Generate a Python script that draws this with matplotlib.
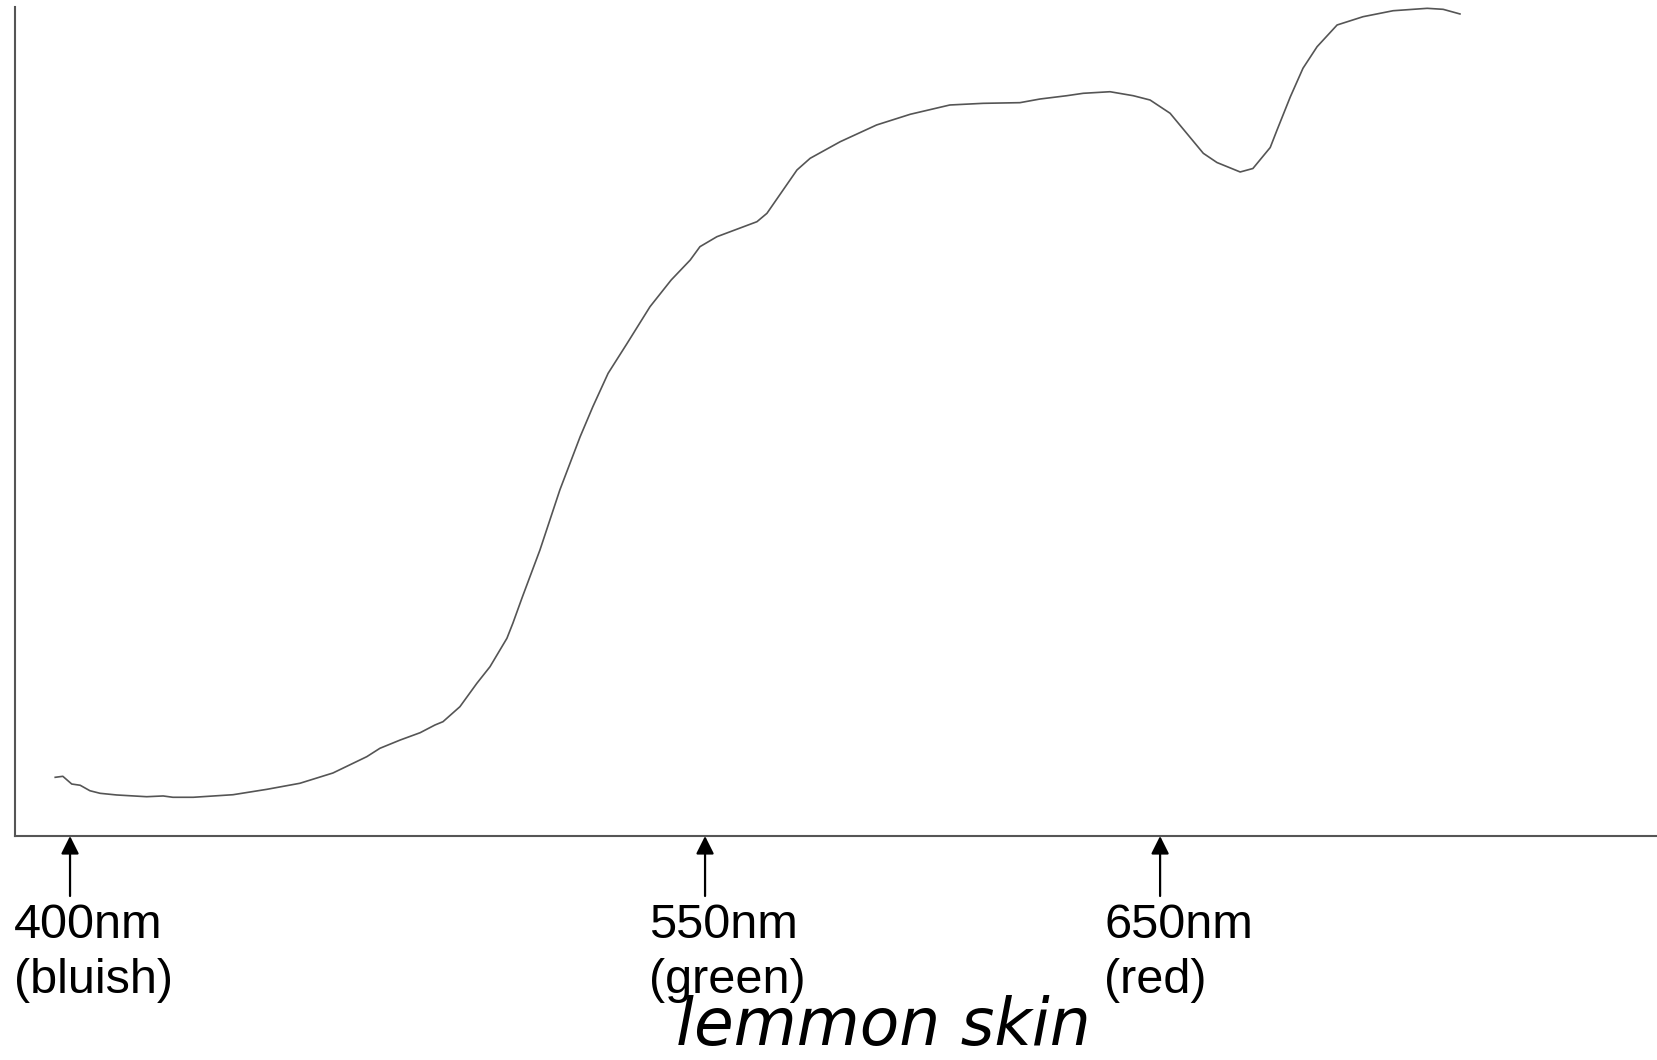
import numpy as np
import matplotlib
matplotlib.use("Agg")
import matplotlib.pyplot as plt

# reflectance spectrum of lemon skin (arbitrary units, 0-100)
wavelength_nm = [396.5, 398.3, 400.4, 402.4, 404.7, 407.1, 411.0, 418.1, 422.0, 424.3,
                 429.1, 438.5, 446.5, 454.3, 462.1, 470.1, 473.2, 478.0, 482.7, 486.2,
                 488.1, 492.1, 496.1, 499.2, 503.2, 504.6, 506.8, 511.0, 515.7, 520.5,
                 523.5, 527.1, 531.6, 537.0, 542.0, 546.5, 548.8, 552.6, 561.4, 563.6,
                 570.2, 573.1, 579.7, 587.7, 595.1, 603.8, 611.1, 619.2, 623.6, 629.5,
                 633.1, 639.0, 644.1, 647.8, 652.2, 659.5, 662.5, 667.6, 670.4, 674.2,
                 675.7, 678.6, 681.4, 684.5, 688.9, 694.6, 701.2, 708.7, 712.2, 715.9]
reflectance = [7.08, 7.20, 6.27, 6.12, 5.46, 5.15, 4.95, 4.74, 4.83, 4.67,
               4.67, 4.98, 5.63, 6.36, 7.60, 9.57, 10.58, 11.58, 12.46, 13.39,
               13.79, 15.60, 18.42, 20.42, 23.85, 25.66, 28.77, 34.50, 41.74, 48.17,
               51.79, 55.81, 59.43, 63.85, 67.07, 69.48, 71.09, 72.29, 74.10, 75.11,
               80.34, 81.75, 83.75, 85.77, 87.06, 88.18, 88.38, 88.46, 88.90, 89.30,
               89.59, 89.78, 89.30, 88.78, 87.18, 82.35, 81.24, 80.10, 80.52, 83.05,
               85.16, 89.14, 92.61, 95.21, 97.83, 98.83, 99.55, 99.84, 99.72, 99.16]

marker_nm = [400, 550, 650]
marker_text = ["400nm", "550nm", "650nm"]
marker_colour = ["(bluish)", "(green)", "(red)"]


# spectrometer dispersion is not constant: blue side is stretched a bit less
def disp_fwd(w):
    w = np.asarray(w, dtype=float)
    return np.where(w < 550, (w - 550) * 4.233, (w - 550) * 4.55)


def disp_inv(p):
    p = np.asarray(p, dtype=float)
    return np.where(p < 0, p / 4.233 + 550, p / 4.55 + 550)


fig = plt.figure(figsize=(16.57, 10.60), dpi=100)
ax = fig.add_axes([15 / 1657, 224 / 1060, 1642 / 1657, 829 / 1060])

ax.set_xscale("function", functions=(disp_fwd, disp_inv))
ax.plot(wavelength_nm, reflectance, color="#555555", lw=1.2, solid_joinstyle="round")
ax.set_xlim(387.0, 759.2)
ax.set_ylim(0, 100)

for s in ["top", "right"]:
    ax.spines[s].set_visible(False)
for s in ["left", "bottom"]:
    ax.spines[s].set_color("#555555")
    ax.spines[s].set_linewidth(1.5)
ax.set_xticks([])
ax.set_yticks([])

px = 72 / 100  # points per pixel
for wl, t1, t2 in zip(marker_nm, marker_text, marker_colour):
    ax.annotate("", xy=(wl, 0), xycoords=("data", "axes fraction"),
                xytext=(0, -60 * px), textcoords="offset points",
                arrowprops=dict(arrowstyle="-|>", color="black", lw=1.6,
                                mutation_scale=27, shrinkA=0, shrinkB=0))
    ax.annotate(t1, xy=(wl, 0), xycoords=("data", "axes fraction"),
                xytext=(-56 * px, -102 * px), textcoords="offset points",
                ha="left", va="baseline", fontsize=35, family="Liberation Sans",
                annotation_clip=False)
    ax.annotate(t2, xy=(wl, 0), xycoords=("data", "axes fraction"),
                xytext=(-56 * px, -157 * px), textcoords="offset points",
                ha="left", va="baseline", fontsize=35, family="Liberation Sans",
                annotation_clip=False)

fig.text(676 / 1657, 1 / 1060, "lemmon skin", fontsize=46.5, style="italic",
         family="DejaVu Sans", ha="left", va="bottom")

fig.savefig("out.png", dpi=100)
